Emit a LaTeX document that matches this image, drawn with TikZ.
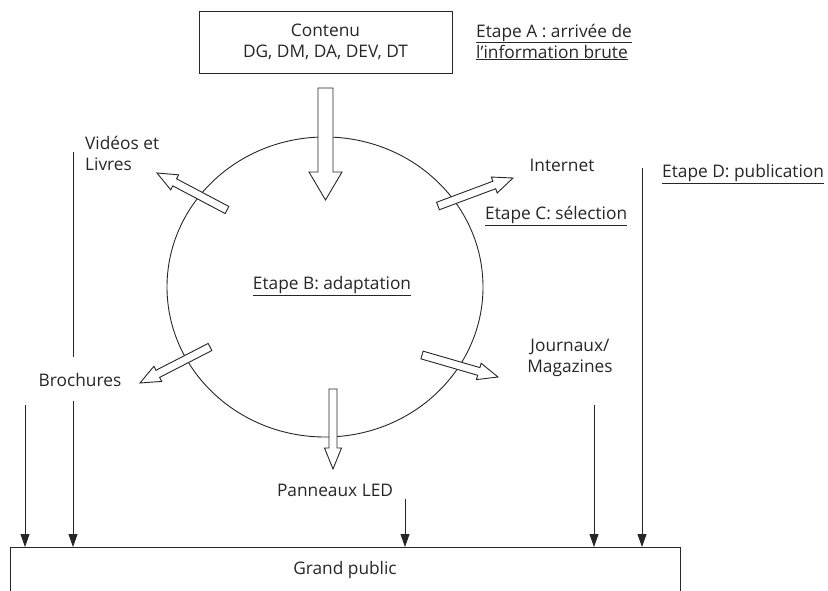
\documentclass[tikz,border=0pt]{standalone}
\usepackage{fontspec}
\setmainfont{Open Sans}
\usetikzlibrary{calc,arrows.meta,shapes.geometric}

\definecolor{ink}{HTML}{262626}

% hollow block arrow: #1 tail, #2 tip, #3 shaft half width, #4 head half width, #5 head length
\newcommand{\hollowarrow}[5]{%
  \coordinate (#1-neck) at ($(#2)!#5!(#1)$);
  \draw[blockarrow]
    ($(#1)!#3!90:(#2)$) -- ($(#1-neck)!#3!90:(#2)$) -- ($(#1-neck)!#4!90:(#2)$) -- (#2)
    -- ($(#1-neck)!#4!-90:(#2)$) -- ($(#1-neck)!#3!-90:(#2)$) -- ($(#1)!#3!-90:(#2)$) -- cycle;
}

\begin{document}
\begin{tikzpicture}[x=1pt,y=-1pt,
  every node/.style={text=ink,font=\fontsize{17.3}{21}\selectfont,inner sep=0pt},
  blockarrow/.style={draw=ink,fill=white,line width=0.9pt,line join=miter},
  thinline/.style={draw=ink,line width=0.9pt},
  feed/.style={draw=ink,line width=0.9pt,-{Triangle[length=13pt,width=9pt]}},
  boxed/.style={draw=ink,line width=0.9pt,align=center}]
\useasboundingbox (0,0) rectangle (828,591);

% source box
\node (src) [boxed,minimum width=253pt,minimum height=62pt] at (325.5,42)
  {Contenu\\DG, DM, DA, DEV, DT};
\node (stepA) [anchor=west,align=left] at (476,42)
  {\underline{Etape A : arriv\'ee de}\\\underline{l'information brute}};

% adaptation circle
\node (adapt) [draw=ink,line width=0.9pt,ellipse,minimum width=316pt,minimum height=300pt] at (325,287) {};
\node (stepB) at (332,286) {\underline{Etape B: adaptation}};

% channel labels
\node (video) [anchor=west,align=left] at (85,153) {Vid\'eos et\\Livres};
\node (net) at (562,165) {Internet};
\node (stepC) [anchor=west] at (485,216) {\underline{Etape C: s\'election}};
\node (stepD) [anchor=west] at (662,174) {\underline{Etape D: publication}};
\node (broch) at (80,380) {Brochures};
\node (press) [align=center] at (570,358) {Journaux/\\Magazines};
\node (led) at (335,490) {Panneaux LED};

% audience box (runs past the lower edge)
\node (gp) [draw=ink,line width=0.9pt,anchor=north west,minimum width=670pt,minimum height=50pt,
  text height=12pt,text depth=3pt] at (10,547) {};
\node (gplabel) at (345,570) {Grand public};

% block arrows
\coordinate (inTail) at (325.5,88);   \coordinate (inTip) at (325.5,200);
\coordinate (ledTail) at (333,389);   \coordinate (ledTip) at (333,469);
\coordinate (vidTail) at (227,210);   \coordinate (vidTip) at (157,173);
\coordinate (broTail) at (210,347);   \coordinate (broTip) at (140,383);
\coordinate (netTail) at (438,206);   \coordinate (netTip) at (513,178);
\coordinate (jouTail) at (422,355);   \coordinate (jouTip) at (498,377);

\hollowarrow{inTail}{inTip}{7.5pt}{16.5pt}{28pt}
\hollowarrow{ledTail}{ledTip}{4pt}{8.5pt}{21pt}
\hollowarrow{vidTail}{vidTip}{4pt}{8.5pt}{20pt}
\hollowarrow{broTail}{broTip}{4pt}{8.5pt}{20pt}
\hollowarrow{netTail}{netTip}{4pt}{8.5pt}{20pt}
\hollowarrow{jouTail}{jouTip}{4pt}{8.5pt}{20pt}

% distribution lines
\coordinate (vidTop) at (73,152);
\coordinate (vidBot) at (73,357);
\draw[thinline] (vidTop) -- (vidBot);

\coordinate (f1) at (25,405);
\coordinate (f2) at (73,401);
\coordinate (f3) at (405,499);
\coordinate (f4) at (594,405);
\coordinate (f5) at (642,168);
\foreach \f in {f1,f2,f3,f4,f5}
  \draw[feed] (\f) -- (\f |- gp.north);
\end{tikzpicture}
\end{document}
